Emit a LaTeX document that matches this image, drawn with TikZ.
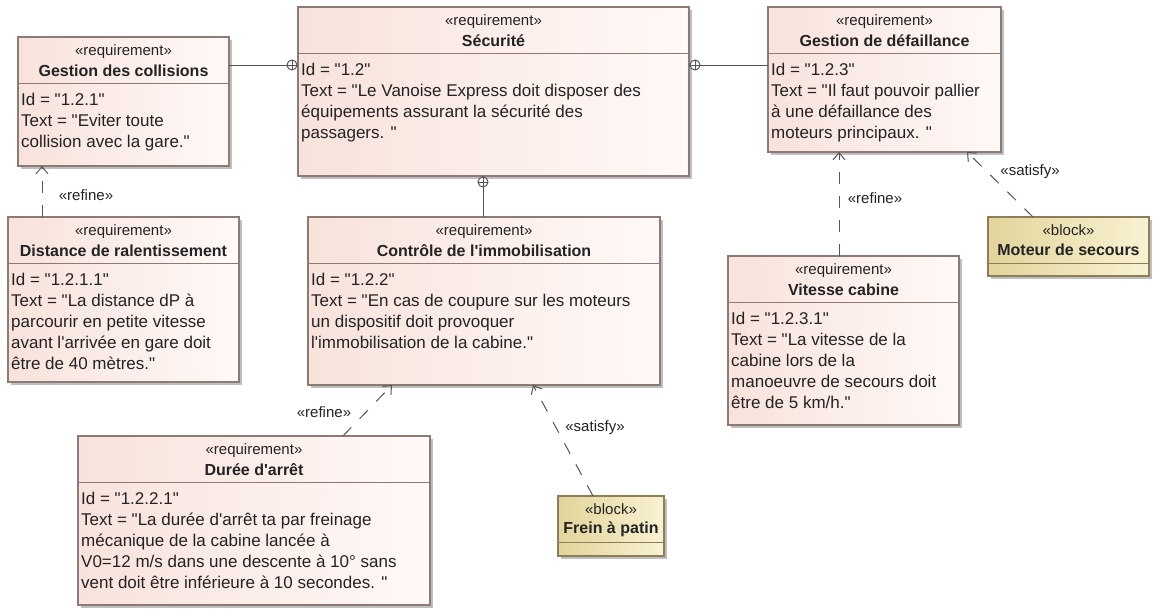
\documentclass[tikz,border=0pt]{standalone}
\usepackage{fontspec}
\setmainfont{Liberation Sans}[Ligatures=TeXOff]
\usetikzlibrary{arrows.meta,shadows}
\definecolor{reqA}{RGB}{248,226,220}
\definecolor{reqB}{RGB}{255,249,247}
\definecolor{reqline}{RGB}{140,122,117}
\definecolor{blkA}{RGB}{226,212,155}
\definecolor{blkB}{RGB}{249,242,210}
\definecolor{blkline}{RGB}{140,126,88}
\definecolor{txt}{RGB}{35,35,35}
\definecolor{conn}{RGB}{85,85,85}
\tikzset{
  req/.style={draw=reqline, line width=1.2pt, left color=reqA, right color=reqB,
    drop shadow={shadow xshift=2.5pt, shadow yshift=-2.5pt, opacity=0.45, fill=black!55},
    inner sep=0pt, outer sep=0pt},
  blk/.style={draw=blkline, line width=1.2pt, left color=blkA, right color=blkB,
    drop shadow={shadow xshift=2.5pt, shadow yshift=-2.5pt, opacity=0.45, fill=black!55},
    inner sep=0pt, outer sep=0pt},
  sepl/.style={draw=reqline, line width=1pt},
  stereo/.style={font=\fontsize{15}{17}\selectfont, text=txt, inner sep=0pt},
  ttl/.style={font=\fontsize{16}{18}\selectfont\bfseries, text=txt, inner sep=0pt},
  bodytxt/.style={font=\fontsize{17}{21}\selectfont, text=txt, align=left, inner sep=0pt, anchor=north west},
  dep/.style={draw=conn, line width=1pt, dash pattern=on 12pt off 12pt,
    -{Straight Barb[length=7pt,width=12pt,line width=1pt]}},
  contain/.style={draw=conn, line width=1pt},
  lbl/.style={font=\fontsize{15}{17}\selectfont, text=txt, inner sep=0pt},
}
\newcommand\reqbox[8]{%
  \node[req, anchor=north west, minimum width={#4-#2}, minimum height={#5-#3}] (#1) at (#2,#3) {};
  \draw[sepl] ([yshift=-46pt]#1.north west) -- ([yshift=-46pt]#1.north east);
  \node[stereo] (#1-st) at ([yshift=-15pt]#1.north) {#6};
  \node[ttl] (#1-ti) at ([yshift=-34pt]#1.north) {#7};
  \node[bodytxt] (#1-bd) at ([xshift=3pt,yshift=-56pt]#1.north west) {#8};
}
\newcommand\blkbox[7]{%
  \node[blk, anchor=north west, minimum width={#4-#2}, minimum height={#5-#3}] (#1) at (#2,#3) {};
  \draw[sepl,draw=blkline] ([yshift=-46pt]#1.north west) -- ([yshift=-46pt]#1.north east);
  \node[stereo] (#1-st) at ([yshift=-13pt]#1.north) {#6};
  \node[ttl] (#1-ti) at ([yshift=-33pt]#1.north) {#7};
}
\newcommand\cplus[2]{%
  \draw[contain, fill=white] (#1,#2) circle (5pt);
  \draw[contain] (#1-5,#2) -- (#1+5,#2) (#1,#2-5) -- (#1,#2+5);
}
\begin{document}
\begin{tikzpicture}[x=1pt,y=-1pt]
\useasboundingbox (0,0) rectangle (1160,616);
\fill[white] (0,0) rectangle (1160,616);

\reqbox{gc}{18}{37}{229}{166}{«requirement»}{Gestion des collisions}{Id = "1.2.1"\\Text = "Eviter toute\\collision avec la gare."}
\reqbox{sec}{298}{7}{689}{176}{«requirement»}{Sécurité}{Id = "1.2"\\Text = "Le Vanoise Express doit disposer des\\équipements assurant la sécurité des\\passagers. "}
\reqbox{gd}{768}{7}{1001}{152}{«requirement»}{Gestion de défaillance}{Id = "1.2.3"\\Text = "Il faut pouvoir pallier\\à une défaillance des\\moteurs principaux. "}
\reqbox{dist}{8}{217}{239}{382}{«requirement»}{Distance de ralentissement}{Id = "1.2.1.1"\\Text = "La distance dP à\\parcourir en petite vitesse\\avant l'arrivée en gare doit\\être de 40 mètres."}
\reqbox{ctrl}{308}{217}{660}{385}{«requirement»}{Contrôle de l'immobilisation}{Id = "1.2.2"\\Text = "En cas de coupure sur les moteurs\\un dispositif doit provoquer\\l'immobilisation de la cabine."}
\reqbox{vit}{728}{256}{959}{425}{«requirement»}{Vitesse cabine}{Id = "1.2.3.1"\\Text = "La vitesse de la\\cabine lors de la\\manoeuvre de secours doit\\être de 5 km/h."}
\reqbox{dur}{78}{436}{430}{605}{«requirement»}{Durée d'arrêt}{Id = "1.2.2.1"\\Text = "La durée d'arrêt ta par freinage\\mécanique de la cabine lancée à\\V0=12 m/s dans une descente à 10° sans\\vent doit être inférieure à 10 secondes. "}
\blkbox{mot}{988}{217}{1149}{276}{«block»}{Moteur de secours}
\blkbox{frein}{558}{496}{664}{556}{«block»}{Frein à patin}

% containment
\draw[contain] (gc.east |- 0,65) -- (sec.west |- 0,65);
\cplus{292}{65}
\draw[contain] (sec.east |- 0,65) -- (gd.west |- 0,65);
\cplus{695}{65}
\draw[contain] (sec.south -| 483,0) -- (ctrl.north -| 483,0);
\cplus{483}{182}

% dependencies
\draw[dep] (dist.north -| 42,0) -- (gc.south -| 42,0);
\draw[dep] (dur.north -| 343,0) -- (ctrl.south -| 392,0);
\draw[dep] (frein.north -| 593,0) -- (ctrl.south -| 533,0);
\draw[dep] (vit.north -| 839,0) -- (gd.south -| 839,0);
\draw[dep] (mot.north -| 1033,0) -- (gd.south -| 967,0);

\node[lbl] (l1) at (86,195) {«refine»};
\node[lbl] (l2) at (324,412) {«refine»};
\node[lbl] (l3) at (875,198) {«refine»};
\node[lbl] (l4) at (595,428) {«satisfy»};
\node[lbl] (l5) at (1030,172) {«satisfy»};
\end{tikzpicture}
\end{document}
